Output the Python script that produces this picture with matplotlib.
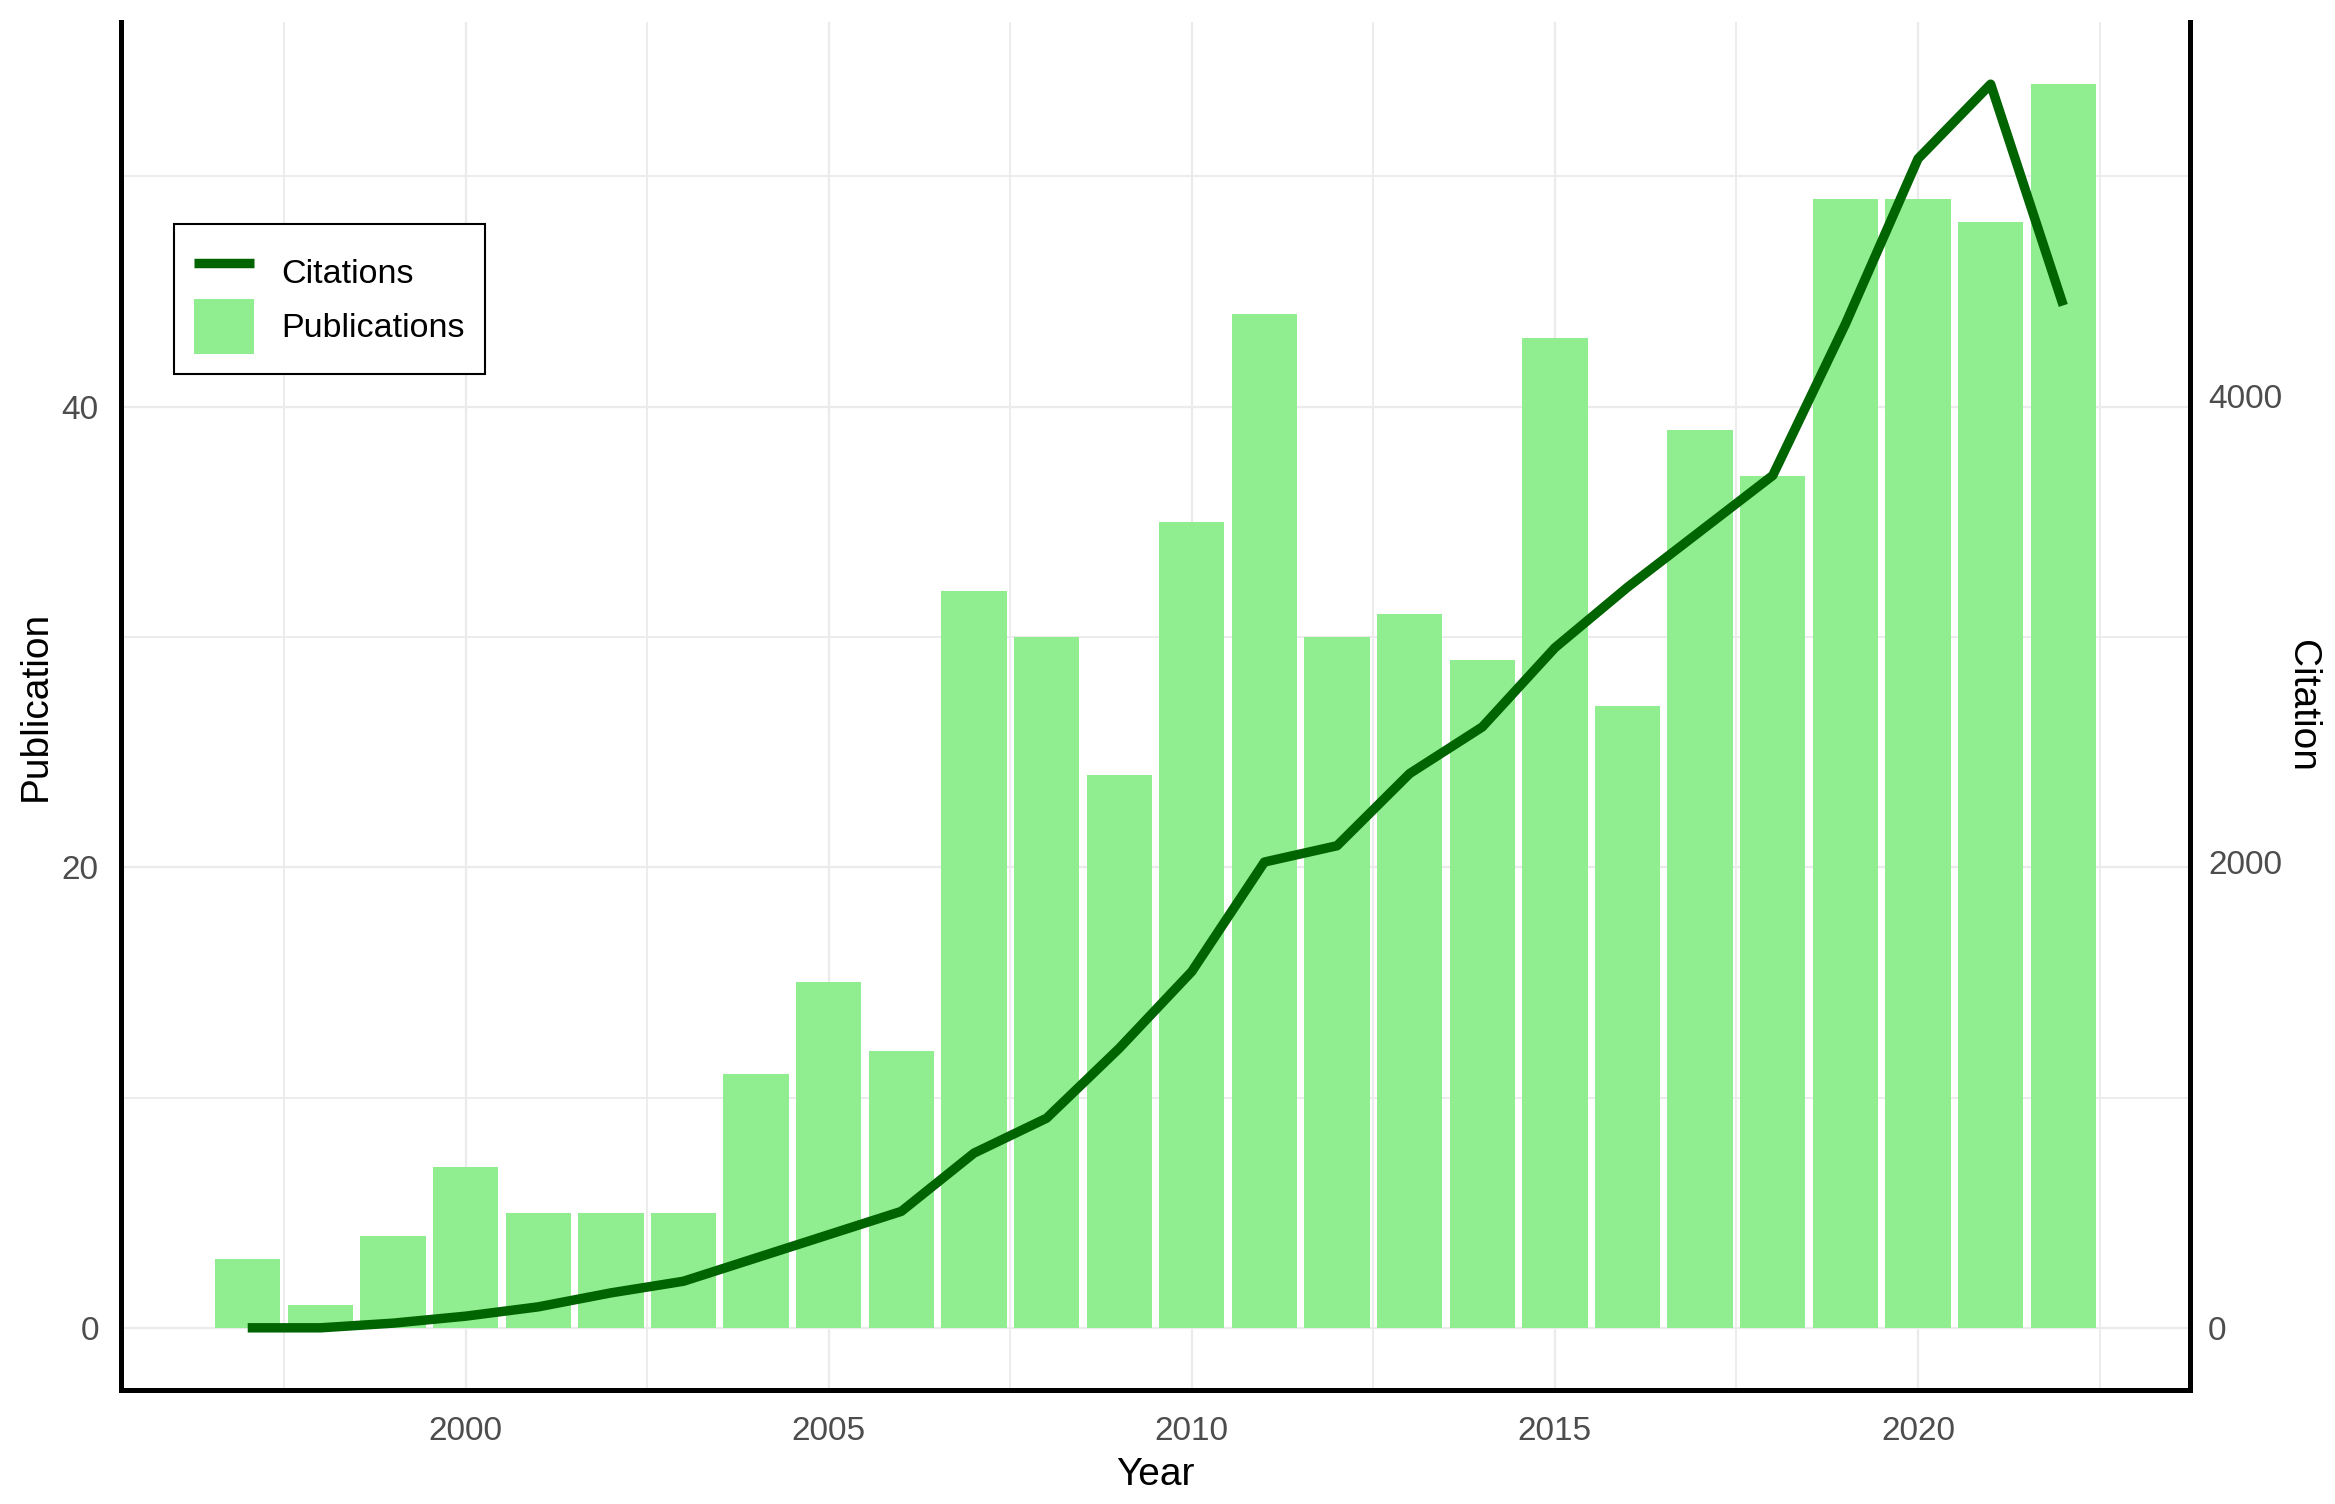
import matplotlib.pyplot as plt
from matplotlib.lines import Line2D
from matplotlib.patches import Patch
from matplotlib.ticker import FixedLocator

plt.rcParams['font.family'] = ['Liberation Sans', 'DejaVu Sans']

# data
years = list(range(1997, 2023))
publications = [3, 1, 4, 7, 5, 5, 5, 11, 15, 12, 32, 30, 24, 35, 44, 30, 31, 29,
                43, 27, 39, 37, 49, 49, 48, 54]
citations = [0, 0, 20, 50, 90, 150, 200, 300, 400, 500, 750, 900, 1200, 1530,
             2000, 2070, 2380, 2580, 2920, 3180, 3420, 3660, 4310, 5020, 5340, 4390]

W, H = 2335, 1504
fig = plt.figure(figsize=(W / 100, H / 100), dpi=100)
ax = fig.add_axes([121 / W, 1 - 1390 / H, (2190 - 121) / W, (1390 - 22) / H])

# bars
ax.bar(years, publications, width=0.9, color='#90EE90', zorder=2)

# ggplot-like expansion
lo, hi = years[0] - 0.45, years[-1] + 0.45
pad = 0.05 * (hi - lo)
ax.set_xlim(lo - pad, hi + pad)
ymax = max(publications)
ax.set_ylim(-0.05 * ymax, ymax * 1.05)

ax.set_xticks([2000, 2005, 2010, 2015, 2020])
ax.xaxis.set_minor_locator(FixedLocator([1997.5, 2002.5, 2007.5, 2012.5, 2017.5, 2022.5]))
ax.set_yticks([0, 20, 40])
ax.yaxis.set_minor_locator(FixedLocator([10, 30, 50]))
ax.set_axisbelow(True)
ax.grid(which='major', color='#EBEBEB', lw=1.6)
ax.grid(which='minor', color='#EBEBEB', lw=1.3)
ax.tick_params(which='both', length=0, labelsize=24, labelcolor='#4D4D4D')
ax.tick_params(axis='y', pad=16)
ax.tick_params(axis='x', pad=19)

ax.set_xlabel('Year', fontsize=28, labelpad=7)
ax.set_ylabel('Publication', fontsize=28, labelpad=6)

# citations on secondary axis
scale = max(citations) / max(publications)
ax2 = ax.twinx()
ax2.plot(years, citations, color='#006400', lw=6.8, solid_capstyle='butt',
         solid_joinstyle='round', zorder=3)
ax2.set_ylim(ax.get_ylim()[0] * scale, ax.get_ylim()[1] * scale)
ax2.set_yticks([0, 2000, 4000])
ax2.tick_params(length=0, labelsize=24, labelcolor='#4D4D4D', pad=13)
ax2.set_ylabel('Citation', fontsize=28, rotation=-90, labelpad=27)

for s in ['top', 'right']:
    ax.spines[s].set_visible(False)
for s in ['top', 'left', 'bottom']:
    ax2.spines[s].set_visible(False)
for sp in [ax.spines['left'], ax.spines['bottom'], ax2.spines['right']]:
    sp.set_color('black')
    sp.set_linewidth(3.6)

handles = [Line2D([], [], color='#006400', lw=6.8, solid_capstyle='butt'),
           Patch(facecolor='#90EE90', edgecolor='none')]
leg = ax2.legend(handles, ['Citations', 'Publications'], loc='upper left',
                 bbox_to_anchor=(174 / W, 1 - 224 / H), bbox_transform=fig.transFigure,
                 fontsize=24.5, frameon=True, fancybox=False, framealpha=1,
                 edgecolor='black', handlelength=1.75, handleheight=2.1,
                 labelspacing=0.0, handletextpad=0.8, borderpad=0.6, borderaxespad=0)
leg.get_frame().set_linewidth(1.5)

fig.savefig('out.png', dpi=100)
